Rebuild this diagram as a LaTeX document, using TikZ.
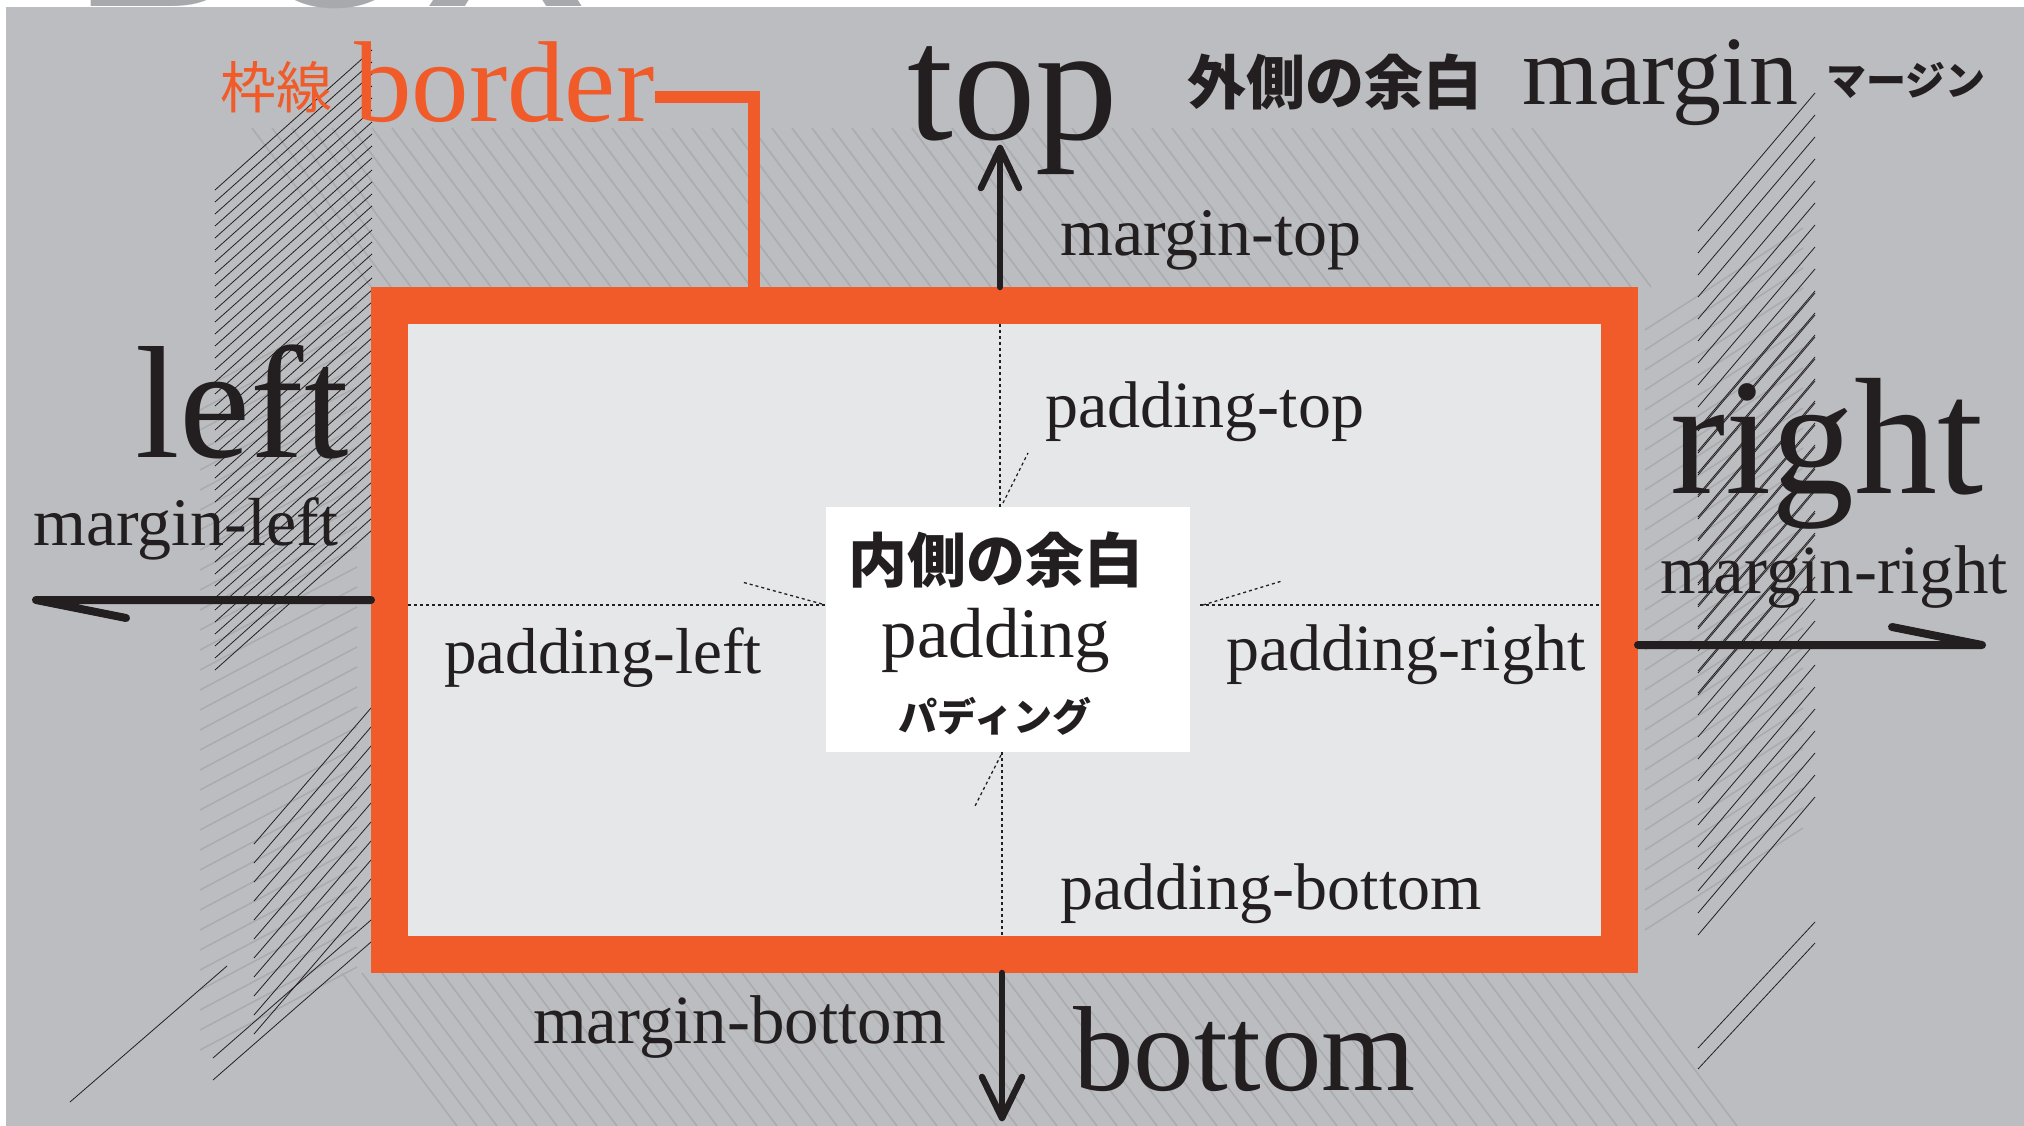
\documentclass[tikz,border=0pt]{standalone}
\usepackage{fontspec}
\usetikzlibrary{calc}
\setmainfont{Liberation Serif}
\newfontfamily\jp{Noto Sans CJK JP}
\newfontfamily\boxfont{Liberation Sans}
\definecolor{bggray}{HTML}{BCBDC0}
\definecolor{ingray}{HTML}{E6E7E8}
\definecolor{orng}{HTML}{F15A29}
\definecolor{ink}{HTML}{231F20}
\definecolor{hatchgray}{HTML}{A9ABAE}
\definecolor{bigletter}{HTML}{A7A9AC}
\newcommand\myfs[1]{\fontsize{#1}{#1}\selectfont}
\begin{document}
\begin{tikzpicture}[x=1pt,y=-1pt,
  lbl/.style={inner sep=0pt, anchor=base west, text=ink},
  jplbl/.style={inner sep=0pt, anchor=center, text=ink},
  lighthatch/.style={draw=hatchgray, line width=1.5pt},
  blackhatch/.style={draw=ink, line width=0.8pt},
  arrowline/.style={draw=ink, line width=8pt, line cap=round, line join=round},
  vline/.style={draw=ink, line width=6.5pt, line cap=round, line join=round},
  guide/.style={draw=ink, line width=1.3pt, dash pattern=on 3pt off 3pt},
  conn/.style={draw=orng, line width=12pt}]
\useasboundingbox (0,0) rectangle (2024,1126);
\fill[white] (0,0) rectangle (2024,1126);
\fill[bggray] (6,7) rectangle (2024,1126);
% big cut-off letters at top
\node[inner sep=0pt, anchor=base west, text=bigletter, font=\boxfont\bfseries\myfs{235}] (bigbox) at (75,7) {BOX};
% light hatches
\foreach \x in {252,272,...,1535} \draw[lighthatch] (\x,128) -- ++(119,159);
\foreach \x in {342,362,...,1640} \draw[lighthatch] (\x,973) -- ++(115,153);
\foreach \y in {390,410,...,1052} \draw[lighthatch] (200,\y) -- ++(157,-83);
\foreach \y in {330,350,...,947} \draw[lighthatch] (1645,\y) -- ++(158,-102);
% black hatches left
\foreach \y in {190,202,...,680} \draw[blackhatch] (215,\y) -- ++(157,-140);
\foreach \y in {844,863,...,1048} \draw[blackhatch] (254,\y) -- ++(117,-136);
\draw[blackhatch] (213,1058) -- (371,920);
\draw[blackhatch] (213,1080) -- (371,942);
\draw[blackhatch] (70,1102) -- (227,966);
% black hatches right
\foreach \y in {231,253,...,943} \draw[blackhatch] (1698,\y) -- ++(117,-138);
\foreach \y in {431,453,...,711} \draw[blackhatch] (1698,\y) -- ++(117,-138);
\draw[blackhatch] (1698,1048) -- (1815,922);
\draw[blackhatch] (1698,1069) -- (1815,943);
% the box
\node[draw=orng, line width=37pt, fill=ingray, minimum width=1230pt, minimum height=649pt, inner sep=0pt] (box) at (1004.5,630) {};
\node[fill=white, minimum width=364pt, minimum height=245pt, inner sep=0pt] (pbox) at (1008,629.5) {};
% guides
\coordinate (gtop) at (1000,324);
\coordinate (gbot) at (1002,936);
\coordinate (gleft) at (408,605);
\coordinate (gright) at (1601,605);
\draw[guide] (gtop) -- (gtop |- pbox.north);
\draw[guide] (pbox.south -| gbot) -- (gbot);
\draw[guide] (gleft) -- (pbox.west |- gleft);
\draw[guide] (1200,605) -- (gright);
\draw[guide] (1003,503) -- (1028,453);
\draw[guide] (822,604) -- (742,582);
\draw[guide] (1203,605) -- (1282,581);
\draw[guide] (1001,755) -- (975,806);
% texts
\node[lbl, text=orng, font=\myfs{115}] (border) at (354,122) {border};
\node[jplbl, text=orng, font=\jp\myfs{56}] (wakusen) at (276,87) {枠線};
\node[lbl, font=\myfs{165}] (top) at (907,140) {top};
\node[jplbl, font=\jp\bfseries\myfs{59}] (sotogawa) at (1335,82) {外側の余白};
\node[lbl, font=\myfs{98}] (margin) at (1522,105) {margin};
\node[jplbl, font=\jp\bfseries\myfs{40}] (margink) at (1906,80) {マージン};
\node[lbl, font=\myfs{68}] (mtop) at (1060,255) {margin-top};
\node[lbl, font=\myfs{160}] (left) at (135,457) {left};
\node[lbl, font=\myfs{68}] (mleft) at (33,545) {margin-left};
\node[lbl, font=\myfs{166}] (right) at (1670,493) {right};
\node[lbl, font=\myfs{69}] (mright) at (1660,593) {margin-right};
\node[lbl, font=\myfs{66}] (ptop) at (1045,427) {padding-top};
\node[lbl, font=\myfs{65}] (pleft) at (444,673) {padding-left};
\node[lbl, font=\myfs{66}] (pright) at (1226,670) {padding-right};
\node[lbl, font=\myfs{66}] (pbottom) at (1060,909) {padding-bottom};
\node[lbl, font=\myfs{69}] (mbottom) at (533,1043) {margin-bottom};
\node[lbl, font=\myfs{121}] (bottom) at (1073,1090) {bottom};
\node[jplbl, font=\jp\bfseries\myfs{59}] (uchigawa) at (996,560) {内側の余白};
\node[inner sep=0pt, anchor=base, text=ink, font=\myfs{71}] (padding) at (996,657) {padding};
\node[jplbl, font=\jp\bfseries\myfs{39}] (paddingk) at (995,716) {パディング};
% border connector
\coordinate (bend) at (754,97);
\draw[conn] (border.east |- bend) -- (bend) -- (bend |- box.north);
% arrows
\coordinate (ta) at (1000,148);
\draw[vline] (box.north -| ta) -- (ta);
\draw[vline] ($(ta)+(-19,40)$) -- (ta) -- ($(ta)+(19,40)$);
\coordinate (ba) at (1002,1118);
\draw[vline] (box.south -| ba) -- (ba);
\draw[vline] ($(ba)+(-20,-41)$) -- (ba) -- ($(ba)+(20,-41)$);
\coordinate (la) at (36,600);
\draw[arrowline] (box.west |- la) -- (la) -- ++(90,18);
\coordinate (ra) at (1982,645);
\draw[arrowline] (box.east |- ra) -- (ra) -- ++(-90,-18);
\end{tikzpicture}
\end{document}
